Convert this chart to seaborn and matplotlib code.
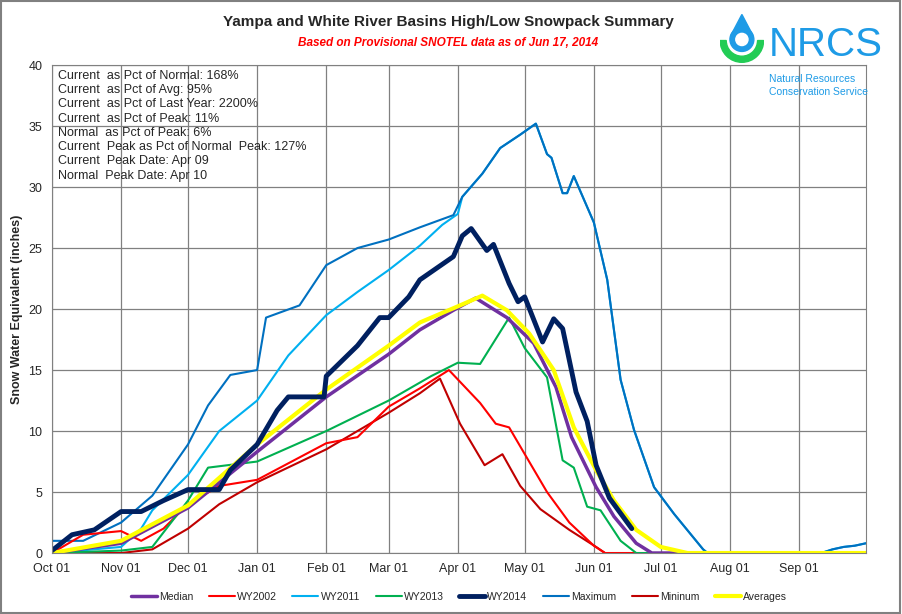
import numpy as np
import pandas as pd
import seaborn as sns
import matplotlib.pyplot as plt
from matplotlib.patches import Wedge, Circle, Polygon

# day of water year (0 = Oct 01) and snow water equivalent (inches)
median_day = [0, 31, 61, 92, 123, 151, 165, 180, 190, 204, 216, 226, 233, 244, 252, 262, 269, 365]
median_swe = [0, 0.8, 3.7, 8.3, 12.8, 16.3, 18.3, 19.9, 20.9, 19.3, 17.2, 13.6, 9.5, 5.4, 3.0, 0.8, 0, 0]
avg_day = [0, 31, 61, 92, 123, 151, 165, 183, 193, 204, 214, 225, 234, 244, 252, 262, 273, 285, 365]
avg_swe = [0, 1.0, 3.9, 8.9, 13.4, 17.0, 18.9, 20.3, 21.1, 19.9, 18.0, 15.0, 10.3, 6.8, 4.3, 1.9, 0.5, 0, 0]
wy2002_day = [0, 14, 31, 40, 50, 61, 75, 92, 123, 137, 151, 165, 178, 192, 199, 205, 213, 222, 232, 243, 248, 365]
wy2002_swe = [0, 1.5, 1.8, 1.0, 2.0, 4.0, 5.5, 6.0, 9.0, 9.5, 12.0, 13.5, 15.0, 12.3, 10.6, 10.3, 7.8, 5.0, 2.5, 0.6, 0, 0]
wy2011_day = [0, 31, 40, 45, 61, 75, 92, 106, 123, 137, 151, 165, 175, 182]
wy2011_swe = [0, 0.5, 2.0, 3.5, 6.4, 10.0, 12.5, 16.2, 19.5, 21.4, 23.2, 25.2, 26.9, 27.8]
wy2013_day = [0, 31, 45, 61, 70, 92, 123, 151, 170, 182, 192, 205, 212, 222, 229, 234, 240, 246, 255, 262, 365]
wy2013_swe = [0, 0.2, 0.5, 4.3, 7.0, 7.5, 10.0, 12.5, 14.5, 15.6, 15.5, 19.3, 16.8, 14.4, 7.6, 7.0, 3.8, 3.5, 1.0, 0, 0]
wy2014_day = [0, 9, 19, 31, 40, 50, 61, 75, 80, 92, 101, 106, 122, 123, 137, 147, 151, 160, 165, 180, 184, 188,
              195, 198, 205, 209, 212, 220, 225, 229, 235, 240, 244, 250, 260]
wy2014_swe = [0.2, 1.5, 1.9, 3.4, 3.4, 4.3, 5.2, 5.2, 6.8, 8.9, 11.7, 12.8, 12.8, 14.5, 17.0, 19.3, 19.3, 21.0,
              22.4, 24.3, 26.0, 26.6, 24.8, 25.3, 22.1, 20.6, 21.0, 17.3, 19.2, 18.4, 13.2, 10.8, 7.2, 4.5, 2.0]
max_day = [0, 14, 31, 45, 61, 70, 80, 92, 96, 111, 123, 137, 151, 165, 180, 184, 193, 201, 210, 217, 222, 224,
           229, 231, 234, 243, 249, 255, 261, 270, 279, 292, 294, 345, 350, 355, 360, 365]
max_swe = [1.0, 1.0, 2.5, 4.7, 8.9, 12.1, 14.6, 15.0, 19.3, 20.3, 23.6, 25.0, 25.7, 26.7, 27.7, 29.2, 31.1, 33.2,
           34.3, 35.2, 32.7, 32.4, 29.5, 29.5, 30.9, 27.1, 22.4, 14.2, 10.1, 5.4, 3.2, 0.3, 0, 0, 0.3, 0.5, 0.6, 0.8]
min_day = [0, 31, 45, 61, 75, 92, 123, 151, 165, 174, 183, 194, 202, 210, 219, 232, 244, 248, 365]
min_swe = [0, 0, 0.3, 2.0, 4.0, 5.8, 8.5, 11.5, 13.1, 14.3, 10.6, 7.2, 8.1, 5.5, 3.6, 1.9, 0.5, 0, 0]

month_days = [0, 31, 61, 92, 123, 151, 182, 212, 243, 273, 304, 335]
month_labels = ['Oct 01', 'Nov 01', 'Dec 01', 'Jan 01', 'Feb 01', 'Mar 01', 'Apr 01', 'May 01',
                'Jun 01', 'Jul 01', 'Aug 01', 'Sep 01']

stats = ['Current  as Pct of Normal: 168%', 'Current  as Pct of Avg: 95%',
         'Current  as Pct of Last Year: 2200%', 'Current  as Pct of Peak: 11%',
         'Normal  as Pct of Peak: 6%', 'Current  Peak as Pct of Normal  Peak: 127%',
         'Current  Peak Date: Apr 09', 'Normal  Peak Date: Apr 10']

# WY2011 ran along the maximum envelope after Apr 01
wy2011_day = wy2011_day + [d for d in max_day if d > 182]
wy2011_swe = wy2011_swe + [v for d, v in zip(max_day, max_swe) if d > 182]

series = [
    ('Median', median_day, median_swe, '#7030a0', 2.5),
    ('WY2002', wy2002_day, wy2002_swe, '#ff0000', 1.5),
    ('WY2011', wy2011_day, wy2011_swe, '#00b0f0', 1.5),
    ('WY2013', wy2013_day, wy2013_swe, '#00b050', 1.5),
    ('WY2014', wy2014_day, wy2014_swe, '#002060', 3.5),
    ('Maximum', max_day, max_swe, '#0070c0', 1.5),
    ('Mininum', min_day, min_swe, '#c00000', 1.5),
    ('Averages', avg_day, avg_swe, '#ffff00', 3),
]

sns.set_style('white')
plt.rcParams['font.family'] = ['Liberation Sans', 'DejaVu Sans']

fig = plt.figure(figsize=(9.02, 6.14), dpi=100)
ax = fig.add_axes([0.0576, 0.0993, 0.9024, 0.7947])

order = ['WY2011', 'Maximum', 'Mininum', 'WY2002', 'WY2013', 'Median', 'Averages', 'WY2014']
handles = {}
for name in order:
    lab, d, v, c, lw = [s for s in series if s[0] == name][0]
    df = pd.DataFrame({'day': d, 'swe': v})
    sns.lineplot(data=df, x='day', y='swe', ax=ax, color=c, linewidth=lw, label=lab)
    handles[lab] = ax.get_lines()[-1]

ax.set_xlim(0, 365)
ax.set_ylim(0, 40)
ax.set_xticks(month_days)
ax.set_xticklabels(month_labels, fontsize=9)
ax.set_yticks(range(0, 41, 5))
ax.tick_params(axis='y', labelsize=9)
ax.grid(True, color='#808080', linewidth=0.9)
for s in ax.spines.values():
    s.set_color('#808080')
ax.set_xlabel('')
ax.set_ylabel('Snow Water Equivalent (inches)', fontsize=9, fontweight='bold')

ax.legend([handles[s[0]] for s in series], [s[0] for s in series], loc='upper center',
          bbox_to_anchor=(0.5, -0.06), ncol=8, frameon=False, fontsize=7.5,
          handlelength=2.5, columnspacing=1.5, handletextpad=0.2)

ax.text(0.008, 0.99, '\n'.join(stats), transform=ax.transAxes, va='top', ha='left',
        fontsize=9, linespacing=1.25)

fig.text(0.497, 0.958, 'Yampa and White River Basins High/Low Snowpack Summary',
         ha='center', fontsize=11, fontweight='bold')
fig.text(0.497, 0.925, 'Based on Provisional SNOTEL data as of Jun 17, 2014',
         ha='center', fontsize=8.5, color='#ff0000', style='italic', fontweight='bold')

# NRCS logo
fig.text(0.852, 0.895, 'NRCS', fontsize=29, color='#1e9be6', ha='left', va='bottom')
fig.text(0.853, 0.867, 'Natural Resources', fontsize=7.5, color='#1e9be6')
fig.text(0.853, 0.845, 'Conservation Service', fontsize=7.5, color='#1e9be6')
lax = fig.add_axes([0.795, 0.895, 0.055, 0.085])
lax.set_xlim(-1, 1)
lax.set_ylim(-1.2, 1.2)
lax.set_aspect('equal')
lax.axis('off')
lax.add_patch(Wedge((0, -0.1), 1.0, 180, 360, width=0.28, color='#22cc55'))
lax.add_patch(Circle((0, -0.05), 0.55, color='#1e9be6'))
lax.add_patch(Polygon([[-0.5, 0.15], [0, 1.1], [0.5, 0.15]], color='#1e9be6'))
lax.add_patch(Circle((0, -0.05), 0.28, color='white'))

fig.add_artist(plt.Rectangle((0.001, 0.001), 0.997, 0.997, transform=fig.transFigure,
                             fill=False, edgecolor='#808080', linewidth=1.5))

fig.savefig('out.png', dpi=100)
